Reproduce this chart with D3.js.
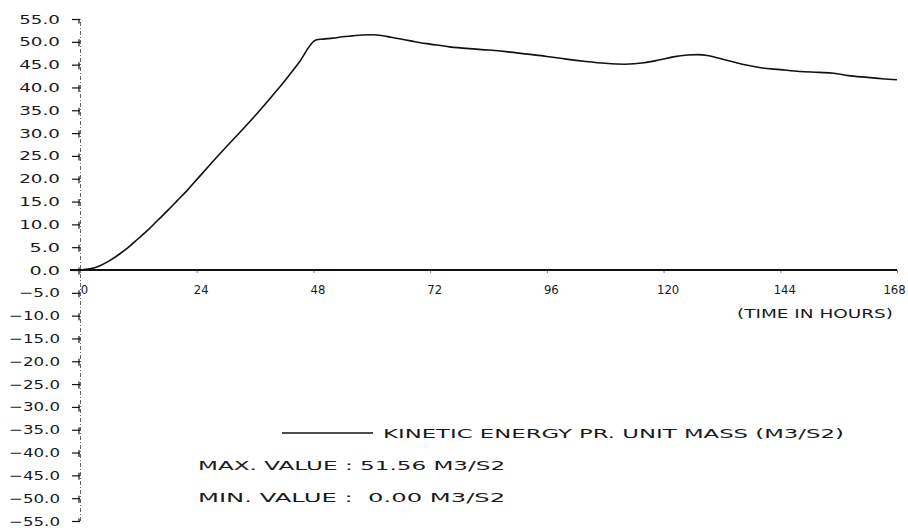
<!DOCTYPE html>
<html>
<head>
<meta charset="utf-8">
<script src="https://cdn.jsdelivr.net/npm/d3@7"></script>
<style>
  html, body { margin: 0; padding: 0; background: #fff; }
  svg { display: block; }
  text { font-family: "DejaVu Sans", "Liberation Sans", sans-serif; fill: #1a1a1a; }
</style>
</head>
<body>
<svg id="chart" width="908" height="530"></svg>
<script>
// Time axis (hours) and kinetic energy per unit mass (m3/s2)
const hours = [0, 2, 4, 6, 8, 10, 12, 14, 16, 18, 20, 22, 24, 27, 30, 33, 36, 39, 42, 45, 48.5,
  50, 52, 54, 56, 58, 60, 62, 64, 66, 68, 70, 72, 76, 80, 84, 88, 92, 96, 100, 104, 108, 112,
  116, 119, 122, 125, 127, 129, 131, 134, 137, 140, 144, 148, 152, 155, 158, 162, 165, 168];
const energy = [0, 0.25, 0.9, 2.0, 3.4, 5.0, 6.9, 8.8, 10.9, 13.0, 15.2, 17.4, 19.8, 23.4, 26.9, 30.3, 33.8, 37.5, 41.3, 45.4, 50.4,
  50.6, 50.8, 51.1, 51.3, 51.5, 51.56, 51.4, 51.0, 50.6, 50.2, 49.8, 49.5, 48.9, 48.5, 48.2, 47.8, 47.3, 46.8, 46.2, 45.7, 45.3, 45.1,
  45.4, 46.0, 46.7, 47.1, 47.2, 47.0, 46.5, 45.7, 44.9, 44.3, 43.9, 43.5, 43.3, 43.1, 42.6, 42.2, 41.9, 41.7];

const xTicks = [0, 24, 48, 72, 96, 120, 144, 168];
const yTicks = d3.range(-55, 56, 5);
const seriesLabel = "KINETIC ENERGY PR. UNIT MASS (M3/S2)";
const xTitle = "(TIME IN HOURS)";
const unit = "M3/S2";

const svg = d3.select("#chart");
const x = d3.scaleLinear().domain([0, 168]).range([80, 897]);
const y = d3.scaleLinear().domain([-55, 55]).range([521, 19]);

// Plotter-style lettering: stretch each string to a fixed pitch per character
function plotterText(sel, pitch) {
  sel.each(function () {
    const t = d3.select(this);
    const s = t.text();
    t.attr("textLength", s.length * pitch).attr("lengthAdjust", "spacingAndGlyphs");
  });
}

// Vertical axis: dash-dot spine with "-|" style ticks
const yAxis = d3.axisLeft(y).tickValues(yTicks).tickSize(8).tickPadding(12)
  .tickFormat(d3.format(".1f"));
const gy = svg.append("g").attr("transform", `translate(${x(0)},0)`).call(yAxis);
gy.select(".domain").attr("stroke", "#555").attr("stroke-width", 0.9)
  .attr("stroke-dasharray", "4,2,1,2");
gy.selectAll(".tick line").attr("stroke", "#111").attr("stroke-width", 1.2);
gy.selectAll(".tick").append("line")
  .attr("x1", -1).attr("x2", -1)
  .attr("y1", d => d === 55 ? 0 : -3)
  .attr("y2", d => d === -55 ? 0 : 4)
  .attr("stroke", "#111").attr("stroke-width", 1.2);
gy.selectAll(".tick text").attr("font-size", 12.5)
  .attr("font-family", "DejaVu Sans").attr("fill", "#1a1a1a")
  .call(plotterText, 10.2);

// Horizontal axis drawn along zero
const xAxis = d3.axisBottom(x).tickValues(xTicks).tickSize(3).tickPadding(12)
  .tickFormat(d3.format("d"));
const gx = svg.append("g").attr("transform", `translate(0,${y(0)})`).call(xAxis);
gx.select(".domain").remove();
gx.append("line").attr("x1", x(0) - 10).attr("x2", x(168))
  .attr("y1", 0).attr("y2", 0).attr("stroke", "#111").attr("stroke-width", 2.2);
gx.selectAll(".tick line").attr("stroke", "#777").attr("stroke-width", 1);
gx.selectAll(".tick text").attr("font-size", 12.5)
  .attr("dx", d => d === 168 ? -3 : 4).attr("font-family", "DejaVu Sans").attr("fill", "#1a1a1a")
  .call(plotterText, 7.4);

svg.append("text").attr("x", 737).attr("y", 318).attr("font-size", 12.5)
  .style("white-space", "pre").text(xTitle).call(plotterText, 10.4);

// Energy curve
const line = d3.line().x((d, i) => x(hours[i])).y(d => y(d)).curve(d3.curveMonotoneX);
svg.append("path").datum(energy).attr("d", line)
  .attr("fill", "none").attr("stroke", "#111").attr("stroke-width", 1.6)
  .attr("stroke-linejoin", "round");

// Legend and extreme values
svg.append("line").attr("x1", 282).attr("x2", 373).attr("y1", 433).attr("y2", 433)
  .attr("stroke", "#111").attr("stroke-width", 1.6);
svg.append("text").attr("x", 383).attr("y", 438).attr("font-size", 12.5)
  .text(seriesLabel).call(plotterText, 12.8);

const fmt = d3.format(".2f");
const maxText = `MAX. VALUE : ${fmt(d3.max(energy))} ${unit}`;
const minText = `MIN. VALUE : ${fmt(d3.min(energy)).padStart(5, " ")} ${unit}`;
svg.append("text").attr("x", 198).attr("y", 470).attr("font-size", 12.5)
  .style("white-space", "pre").text(maxText).call(plotterText, 12.8);
svg.append("text").attr("x", 198).attr("y", 502).attr("font-size", 12.5)
  .style("white-space", "pre").text(minText).call(plotterText, 12.8);
</script>
</body>
</html>
